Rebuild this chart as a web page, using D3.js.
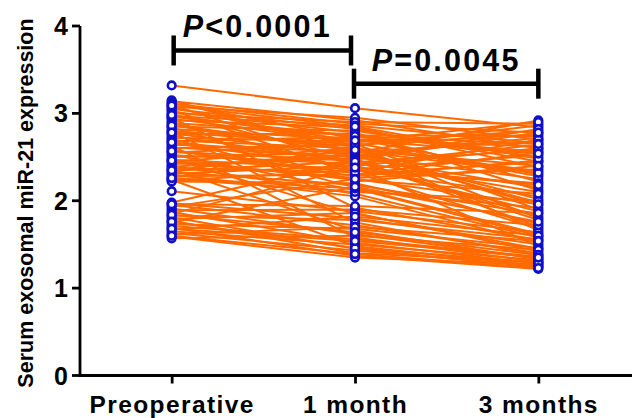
<!DOCTYPE html>
<html>
<head>
<meta charset="utf-8">
<script src="https://cdn.jsdelivr.net/npm/d3@7"></script>
<style>
  html, body { margin: 0; padding: 0; background: #fff; }
  svg { display: block; }
  text { font-family: "Liberation Sans", Arial, sans-serif; font-weight: bold; fill: #000; }
</style>
</head>
<body>
<svg id="chart" width="635" height="418"></svg>
<script>
// ---- data ----
const categories = ["Preoperative", "1 month", "3 months"];
const yTicks = [0, 1, 2, 3, 4];
const preoperative = [
  3.32, 3.15, 3.14, 3.12, 3.11, 3.10, 3.08, 3.07, 3.05, 3.04,
  3.02, 3.00, 2.99, 2.97, 2.95, 2.94, 2.92, 2.90, 2.89, 2.87,
  2.85, 2.84, 2.82, 2.80, 2.79, 2.77, 2.76, 2.74, 2.72, 2.71,
  2.69, 2.68, 2.66, 2.64, 2.63, 2.61, 2.60, 2.58, 2.56, 2.55,
  2.53, 2.52, 2.50, 2.48, 2.47, 2.45, 2.44, 2.42, 2.40, 2.39,
  2.37, 2.36, 2.34, 2.33, 2.31, 2.30, 2.28, 2.27, 2.25, 2.24,
  2.23, 2.22, 3.09, 2.96, 2.86, 2.78, 2.67, 2.57, 2.46, 2.35,
  2.26, 2.98,
  2.11, 1.98, 1.97, 1.95, 1.93, 1.91, 1.89, 1.87, 1.85, 1.83,
  1.81, 1.79, 1.77, 1.75, 1.73, 1.71, 1.69, 1.67, 1.65, 1.63,
  1.61, 1.59, 1.57, 1.96, 1.84, 1.76, 1.68, 1.60
];
const month1 = [
  3.06, 2.55, 2.92, 2.71, 2.88, 2.40, 2.95, 2.63, 2.82, 2.30,
  2.78, 2.90, 2.48, 2.86, 1.92, 2.67, 2.84, 2.35, 2.75, 2.58,
  2.80, 2.22, 2.70, 2.62, 1.75, 2.52, 2.77, 2.44, 2.68, 2.15,
  2.60, 2.73, 2.38, 2.56, 1.58, 2.50, 2.64, 2.28, 2.46, 2.66,
  2.12, 2.42, 2.55, 1.85, 2.36, 2.60, 2.26, 2.48, 2.08, 2.52,
  2.33, 1.66, 2.45, 2.18, 2.40, 2.05, 2.30, 2.54, 2.10, 1.48,
  2.35, 2.20, 2.85, 2.74, 2.57, 2.65, 2.47, 2.32, 2.24, 2.58,
  2.14, 2.69,
  1.88, 2.45, 1.80, 1.72, 2.25, 1.62, 1.90, 1.52, 2.38, 1.78,
  1.45, 1.86, 1.40, 2.16, 1.68, 1.56, 1.37, 1.82, 1.50, 1.43,
  1.70, 1.35, 1.60, 1.94, 1.64, 1.46, 1.54, 1.39
];
const month3 = [
  2.84, 2.92, 2.60, 2.30, 2.78, 1.88, 2.70, 2.86, 2.45, 2.55,
  2.12, 2.88, 1.70, 2.66, 1.55, 2.80, 2.38, 2.05, 2.74, 1.95,
  2.50, 2.40, 2.62, 1.80, 1.38, 2.72, 2.22, 2.58, 2.90, 1.62,
  2.34, 2.56, 1.48, 2.68, 1.30, 2.15, 2.76, 2.46, 1.78, 2.28,
  1.92, 2.64, 2.02, 1.45, 2.52, 1.66, 2.36, 2.82, 1.58, 2.25,
  2.70, 1.33, 2.10, 1.85, 2.60, 1.52, 2.44, 1.98, 2.00, 1.26,
  2.20, 1.74, 2.48, 2.65, 2.32, 1.90, 2.78, 1.68, 2.08, 2.40,
  1.60, 2.54,
  1.64, 1.82, 1.50, 1.40, 1.96, 1.34, 1.72, 1.28, 2.18, 1.56,
  1.24, 1.42, 1.30, 1.76, 1.46, 1.36, 1.22, 1.60, 1.32, 1.25,
  1.54, 1.27, 1.44, 1.86, 1.38, 1.29, 1.35, 1.23
];
const pLabels = ["<0.0001", "=0.0045"];
const bracketLevels = [3.72, 3.34];

// ---- chart ----
const svg = d3.select("#chart");
const x = d3.scalePoint().domain(categories).range([80, 630]).padding(0.5);
const y = d3.scaleLinear().domain([0, 4]).range([375.5, 26]);
const axisX = 80;

const subjects = preoperative.map((v, i) => [v, month1[i], month3[i]]);
const lineGen = d3.line().x((d, i) => x(categories[i])).y(d => y(d));

svg.append("g")
  .selectAll("path")
  .data(subjects)
  .join("path")
  .attr("d", lineGen)
  .attr("fill", "none")
  .attr("stroke", "#FF6A00")
  .attr("stroke-width", 2);

const pts = [];
subjects.forEach(s => s.forEach((v, j) => pts.push({c: categories[j], v})));
svg.append("g")
  .selectAll("circle")
  .data(pts)
  .join("circle")
  .attr("cx", d => x(d.c))
  .attr("cy", d => y(d.v))
  .attr("r", 3.8)
  .attr("fill", "#fff")
  .attr("stroke", "#1010C8")
  .attr("stroke-width", 2.6);

// y axis (drawn from the y scale)
const ya = svg.append("g");
ya.append("line")
  .attr("x1", axisX).attr("x2", axisX)
  .attr("y1", y(4)).attr("y2", y(0) + 1.4)
  .attr("stroke", "#000").attr("stroke-width", 2.8);
ya.selectAll("line.tk")
  .data(yTicks)
  .join("line")
  .attr("class", "tk")
  .attr("x1", axisX - 8).attr("x2", axisX)
  .attr("y1", d => y(d)).attr("y2", d => y(d))
  .attr("stroke", "#000").attr("stroke-width", 2.8);
ya.selectAll("text")
  .data(yTicks)
  .join("text")
  .attr("x", axisX - 12)
  .attr("y", d => y(d))
  .attr("dy", "0.36em")
  .attr("text-anchor", "end")
  .attr("font-size", 25)
  .text(d => d3.format("d")(d));

// x axis
const xAxis = svg.append("g")
  .attr("transform", "translate(0,375.5)")
  .call(d3.axisBottom(x).tickSize(8).tickSizeOuter(0));
xAxis.selectAll("text")
  .attr("font-size", 24.5)
  .attr("letter-spacing", 1.4)
  .attr("font-family", "'Liberation Sans', Arial, sans-serif")
  .attr("font-weight", "bold")
  .attr("y", 37)
  .attr("dy", null);
xAxis.select(".domain").attr("stroke", "#000").attr("stroke-width", 2.8)
  .attr("d", `M${axisX - 1.4},0H632`);
xAxis.selectAll(".tick line").attr("stroke", "#000").attr("stroke-width", 2.8);

// y title
svg.append("text")
  .attr("transform", `translate(33,${203}) rotate(-90)`)
  .attr("text-anchor", "middle")
  .attr("font-size", 21.5)
  .text("Serum exosomal miR-21 expression");

// significance brackets
const pairs = [[0, 1], [1, 2]];
pairs.forEach((p, k) => {
  const x1 = x(categories[p[0]]) + (k === 0 ? 2 : -1);
  const x2 = x(categories[p[1]]) + (k === 0 ? -4 : 0);
  const by = y(bracketLevels[k]);
  const g = svg.append("g").attr("stroke", "#000").attr("stroke-width", 4.5).attr("fill", "none");
  g.append("line").attr("x1", x1).attr("x2", x2).attr("y1", by).attr("y2", by);
  g.append("line").attr("x1", x1).attr("x2", x1).attr("y1", by - 15).attr("y2", by + 15);
  g.append("line").attr("x1", x2).attr("x2", x2).attr("y1", by - 15).attr("y2", by + 15);
  const t = svg.append("text")
    .attr("x", (x1 + x2) / 2 - (k === 0 ? 5 : 0))
    .attr("y", by - 13)
    .attr("text-anchor", "middle")
    .attr("font-size", 30.5)
    .attr("letter-spacing", 2.2);
  t.append("tspan").attr("font-style", "italic").text("P");
  t.append("tspan").text(pLabels[k]);
});
</script>
</body>
</html>
